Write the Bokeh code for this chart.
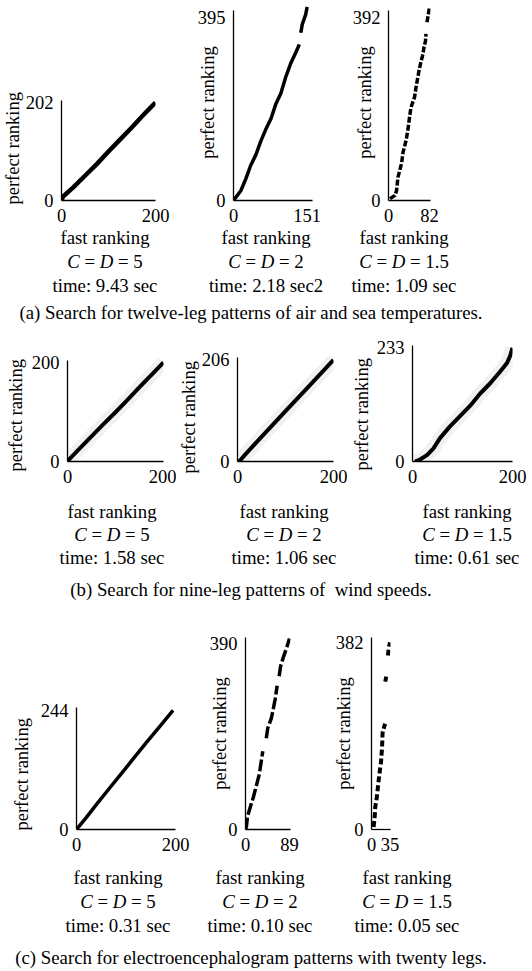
from bokeh.plotting import figure
from bokeh.models import Range1d, FixedTicker, Div, Spacer, Title
from bokeh.layouts import column, row
from bokeh.embed import file_html
from bokeh.resources import INLINE

nan = float("nan")

# ---------------- data ----------------
# (a) twelve-leg patterns of air and sea temperatures
a1_fast    = [0, 3, 10, 25, 50, 75, 100, 125, 150, 175, 200]
a1_perfect = [0, 8, 14, 27, 51, 75, 101, 126, 151, 177, 202]
a2_fast    = [0, 15, 25, 35, 46, 56, 66, 77, 87, 97, 107, 117, 128, 135, nan, 138, 141, 148, 151]
a2_perfect = [0, 21, 46, 75, 99, 128, 153, 177, 209, 231, 266, 295, 320, 337, nan, 362, 380, 401, 418]
a3_fast    = [3, 13, 16, 19, 26, 29, 35, 39, 42, 45, 52, 55, 58, 61, 64, 68, 71, 74, 75, nan, 77, 82]
a3_perfect = [4, 11, 21, 50, 79, 103, 128, 153, 178, 200, 221, 242, 260, 278, 293, 310, 328, 342, 357, nan, 382, 414]
# (b) nine-leg patterns of wind speeds
b1_fast    = [0, 3, 25, 50, 75, 100, 125, 150, 175, 200]
b1_perfect = [0, 4, 26, 51, 76, 100, 125, 151, 176, 201]
b2_fast    = [3, 8, 15, 50, 100, 150, 200]
b2_perfect = [0, 5, 13, 50, 102, 154, 206]
b3_fast    = [5, 15, 29, 42, 55, 75, 95, 115, 135, 155, 175, 189, 195, 200]
b3_perfect = [0, 4, 13, 27, 48, 72, 93, 114, 139, 160, 184, 202, 216, 233]
# (c) electroencephalogram patterns with twenty legs
c1_fast    = [0, 3, 20, 40, 67, 91, 114, 141, 168, 195]
c1_perfect = [0, 4, 25, 51, 85, 115, 144, 178, 211, 244]
c2_fast    = [0, 2, 4, 10, 16, 23, 28, 32, 35, nan, 42, 45, 52, 55, 60, 64, nan, 68, 71, 77, 84, 89]
c2_perfect = [0, 7, 27, 48, 68, 96, 116, 144, 164, nan, 191, 212, 232, 246, 273, 301, nan, 321, 342, 362, 383, 400]
c3_fast    = [4, 6, 7, 10, 12, 14, 17, 18, 20, 21, 24, 26, nan, 26, 28, nan, 31, 33, 35]
c3_perfect = [5, 25, 45, 65, 85, 104, 131, 137, 167, 197, 210, 216, nan, 302, 312, nan, 355, 372, 382]

# tick labels (max values shown on the axes)
x_ticks_a = [200, 151, 82]
y_ticks_a = [202, 395, 392]
x_ticks_b = [200, 200, 200]
y_ticks_b = [200, 206, 233]
x_ticks_c = [200, 89, 35]
y_ticks_c = [244, 390, 382]

cd_values = ["5", "2", "1.5"]
times_a = ["time: 9.43 sec", "time: 2.18 sec2", "time: 1.09 sec"]
times_b = ["time: 1.58 sec", "time: 1.06 sec", "time: 0.61 sec"]
times_c = ["time: 0.31 sec", "time: 0.10 sec", "time: 0.05 sec"]
captions = [
    "(a) Search for twelve-leg patterns of air and sea temperatures.",
    "(b) Search for nine-leg patterns of&nbsp; wind speeds.",
    "(c) Search for electroencephalogram patterns with twenty legs.",
]
Y_LABEL = "perfect ranking"

FONT = "Liberation Serif"
FS = "18.5px"
DIV_FS = "18.8px"


def make_panel(fast, perfect, xtick, ytick, w, h, L, R, T, B,
               x_end, y_end, y_bound, label_standoff, title_offset=None,
               lw=3.5, dash="solid", halo=False):
    p = figure(width=w, height=h, x_range=Range1d(0, x_end), y_range=Range1d(0, y_end),
               output_backend="svg", toolbar_location=None, title=None,
               min_border_left=L, min_border_right=R, min_border_top=T, min_border_bottom=B)
    p.outline_line_color = None
    p.grid.visible = False
    p.background_fill_color = "white"
    p.border_fill_color = "white"
    for ax, ticks in ((p.xaxis[0], [0, xtick]), (p.yaxis[0], [0, ytick])):
        ax.ticker = FixedTicker(ticks=ticks)
        ax.major_tick_line_color = None
        ax.minor_tick_line_color = None
        ax.major_tick_out = 0
        ax.major_tick_in = 0
        ax.minor_tick_out = 0
        ax.minor_tick_in = 0
        ax.axis_line_color = "black"
        ax.axis_line_width = 1.3
        ax.major_label_text_font = FONT
        ax.major_label_text_font_size = FS
        ax.major_label_text_color = "black"
    xa = p.xaxis[0]
    ya = p.yaxis[0]
    xa.major_label_standoff = 8
    ya.major_label_standoff = 8
    ya.bounds = (0, y_bound)
    if title_offset is None:
        # label tucked in beside the tick labels
        ya.axis_label = Y_LABEL
        ya.axis_label_text_font = FONT
        ya.axis_label_text_font_size = FS
        ya.axis_label_text_font_style = "normal"
        ya.axis_label_text_color = "black"
        ya.axis_label_standoff = label_standoff
    else:
        t = Title(text=Y_LABEL, align="left", offset=title_offset,
                  text_font=FONT, text_font_size=FS, text_font_style="normal",
                  text_color="black")
        if "standoff" in t.properties():
            t.standoff = label_standoff
        p.add_layout(t, "left")
    if halo:
        p.line(fast, perfect, line_color="#b0b0b0", line_width=14, line_alpha=0.18)
    p.line(fast, perfect, line_color="black", line_width=lw, line_dash=dash,
           line_join="round")
    return p


def text_div(cd, time, w, lh, shift=0):
    html = ('<div style="position:relative;top:%dpx;width:%dpx;font-family:\'Liberation Serif\',serif;'
            'font-size:%s;line-height:%spx;text-align:center;white-space:nowrap;color:#000;">'
            'fast ranking<br><i>C</i> = <i>D</i> = %s<br>%s</div>'
            % (shift, w, DIV_FS, lh, cd, time))
    return Div(text=html, width=w, height=int(3 * lh), margin=(0, 0, 0, 0))


def cap_div(text, lh, w=502):
    html = ('<div style="width:%dpx;font-family:\'Liberation Serif\',serif;font-size:%s;'
            'line-height:%dpx;text-align:center;white-space:nowrap;color:#000;">%s</div>'
            % (w, DIV_FS, lh, text))
    return Div(text=html, width=w, height=lh, margin=(0, 0, 0, 0))


B = 30
# row (a): figure top at 0, frames span y 4..200
pa1 = make_panel(a1_fast, a1_perfect, x_ticks_a[0], y_ticks_a[0], 185, 230, 61, 30, 4, B,
                 200, 403.8, 206, 0, title_offset=-4, lw=4.5)
pa2 = make_panel(a2_fast, a2_perfect, x_ticks_a[1], y_ticks_a[1], 160, 230, 48, 33, 4, B,
                 162, 423, 410, -23)
pa3 = make_panel(a3_fast, a3_perfect, x_ticks_a[2], y_ticks_a[2], 187, 230, 43, 102, 4, B,
                 84, 420, 407, -25, dash="6 2")
# row (b): figure top at 324, frames span y 345..461
pb1 = make_panel(b1_fast, b1_perfect, x_ticks_b[0], y_ticks_b[0], 176, 167, 67, 13, 21, B,
                 200, 235.4, 205, 6, title_offset=-10, lw=4, halo=True)
pb2 = make_panel(b2_fast, b2_perfect, x_ticks_b[1], y_ticks_b[1], 171, 167, 61, 14, 21, B,
                 200, 235.3, 211, 0, title_offset=-12, lw=4, halo=True)
pb3 = make_panel(b3_fast, b3_perfect, x_ticks_b[2], y_ticks_b[2], 185, 167, 65, 20, 21, B,
                 200, 238, 238, 4, title_offset=-9, lw=4, halo=True)
# row (c): figure top at 602, frames span y 637..829
pc1 = make_panel(c1_fast, c1_perfect, x_ticks_c[0], y_ticks_c[0], 200, 257, 76, 25, 35, B,
                 200, 393.4, 250, 11, title_offset=-1)
pc2 = make_panel(c2_fast, c2_perfect, x_ticks_c[1], y_ticks_c[1], 130, 257, 45, 40, 35, B,
                 91, 402, 402, -23, dash="12 3")
pc3 = make_panel(c3_fast, c3_perfect, x_ticks_c[2], y_ticks_c[2], 202, 257, 38, 142, 35, B,
                 36, 392, 392, -21, lw=4, dash="6 3")

div_row_a = row(Spacer(width=40), text_div(cd_values[0], times_a[0], 130, 24, -4),
                Spacer(width=31), text_div(cd_values[1], times_a[1], 130, 24, -4),
                Spacer(width=8), text_div(cd_values[2], times_a[2], 130, 24, -4))
div_row_b = row(Spacer(width=47), text_div(cd_values[0], times_b[0], 130, 23),
                Spacer(width=42), text_div(cd_values[1], times_b[1], 130, 23),
                Spacer(width=53), text_div(cd_values[2], times_b[2], 130, 23))
div_row_c = row(Spacer(width=53), text_div(cd_values[0], times_c[0], 130, 24),
                Spacer(width=12), text_div(cd_values[1], times_c[1], 130, 24),
                Spacer(width=17), text_div(cd_values[2], times_c[2], 130, 24))

layout = column(
    row(pa1, pa2, pa3),                 # 0..230
    div_row_a,                          # 230..302
    cap_div(captions[0], 22),           # 302..324
    row(pb1, pb2, pb3),                 # 324..491
    Spacer(height=9),
    div_row_b,                          # 500..569
    Spacer(height=9),
    cap_div(captions[1], 24),           # 578..602
    row(pc1, pc2, pc3),                 # 602..859
    Spacer(height=7),
    div_row_c,                          # 866..938
    Spacer(height=8),
    cap_div(captions[2], 24),           # 946..970
)

open("out.html", "w").write(file_html(layout, INLINE, "rankings"))
